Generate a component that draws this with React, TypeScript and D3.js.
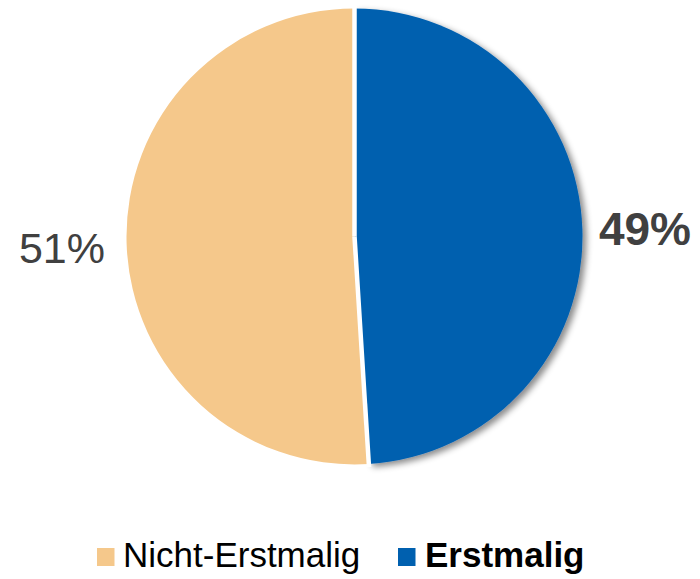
import React from "react";
import * as d3 from "d3";

const categories = ["Erstmalig", "Nicht-Erstmalig"];
const values = [49, 51];
const labels = ["49%", "51%"];
const colors = ["#0060AF", "#F5C88B"];
const legendOrder = ["Nicht-Erstmalig", "Erstmalig"];

export default function App() {
  const W = 700, H = 579;
  const cx = 354.5, cy = 236.5, r = 228;
  const pie = d3.pie<number>().sort(null).startAngle(0).endAngle(2 * Math.PI);
  const arcs = pie(values);
  const arcGen = d3.arc<d3.PieArcDatum<number>>().innerRadius(0).outerRadius(r);
  const font = "'Liberation Sans', Arial, sans-serif";
  const legendX = [97, 398];
  const textX = [123, 425];
  const boundaries = arcs.map((a) => a.startAngle);
  return (
    <svg width={W} height={H} style={{ position: "absolute", left: 0, top: 0, background: "#fff" }}>
      <defs>
        <filter id="sh" x="-20%" y="-20%" width="140%" height="140%">
          <feDropShadow dx="4" dy="3" stdDeviation="3" floodColor="#000" floodOpacity="0.45" />
        </filter>
      </defs>
      <g transform={`translate(${cx},${cy})`}>
        {arcs.map((a, i) => (
          <path
            key={categories[i]}
            d={arcGen(a) || ""}
            fill={colors[i]}
            filter={i === 0 ? "url(#sh)" : undefined}
          />
        ))}
        {boundaries.map((ang, i) => (
          <line
            key={i}
            x1={0}
            y1={0}
            x2={(r + 3) * Math.sin(ang)}
            y2={-(r + 3) * Math.cos(ang)}
            stroke="#fff"
            strokeWidth={4.5}
          />
        ))}
      </g>
      <text x={645} y={245} textAnchor="middle" fontFamily={font} fontSize={46} fontWeight="bold" fill="#404040">
        {labels[0]}
      </text>
      <text x={62} y={263} textAnchor="middle" fontFamily={font} fontSize={43} fill="#404040">
        {labels[1]}
      </text>
      {legendOrder.map((name, i) => {
        const ci = categories.indexOf(name);
        return (
          <g key={name}>
            <rect x={legendX[i]} y={548} width={17.5} height={18} fill={colors[ci]} />
            <text
              x={textX[i]}
              y={567}
              fontFamily={font}
              fontSize={35}
              fontWeight={name === "Erstmalig" ? "bold" : "normal"}
              fill="#000"
            >
              {name}
            </text>
          </g>
        );
      })}
    </svg>
  );
}
